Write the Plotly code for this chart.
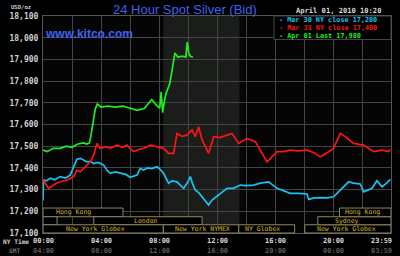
import plotly.graph_objects as go

# ---------------- data ----------------
hours_mar30 = [0.0, 0.03, 0.25, 0.5, 0.8, 1.19, 1.54, 1.88, 2.11, 2.34, 2.57, 2.8, 3.03, 3.25, 3.49, 3.8, 4.18, 4.4, 4.64, 5.0, 5.33, 5.7, 6.02, 6.25, 6.48, 6.71, 6.94, 7.2, 7.5, 7.86, 8.1, 8.32, 8.66, 8.9, 9.24, 9.45, 9.70, 9.95, 10.16, 10.3, 10.50, 10.75, 10.97, 11.2, 11.42, 11.66, 11.9, 12.23, 12.69, 13.14, 13.61, 14.0, 14.52, 15.0, 15.56, 16.14, 16.6, 17.06, 17.6, 18.21, 18.32, 18.7, 19.12, 19.6, 20.04, 20.50, 21.08, 21.4, 21.88, 22.11, 22.69, 23.03, 23.38, 23.7, 23.95]
price_mar30 = [17.25, 17.344, 17.34, 17.353, 17.345, 17.36, 17.353, 17.367, 17.405, 17.44, 17.444, 17.436, 17.428, 17.43, 17.42, 17.425, 17.413, 17.39, 17.375, 17.382, 17.375, 17.37, 17.357, 17.362, 17.367, 17.398, 17.39, 17.40, 17.397, 17.405, 17.392, 17.375, 17.329, 17.34, 17.336, 17.322, 17.306, 17.33, 17.36, 17.33, 17.298, 17.285, 17.267, 17.25, 17.229, 17.252, 17.265, 17.283, 17.306, 17.306, 17.321, 17.318, 17.321, 17.33, 17.336, 17.306, 17.296, 17.283, 17.283, 17.28, 17.255, 17.262, 17.263, 17.262, 17.267, 17.298, 17.336, 17.33, 17.326, 17.29, 17.306, 17.341, 17.313, 17.33, 17.347]

hours_mar31 = [0.0, 0.39, 0.8, 1.19, 1.66, 2.11, 2.34, 2.57, 3.03, 3.26, 3.5, 3.72, 3.95, 4.3, 4.64, 5.10, 5.45, 5.79, 6.0, 6.25, 6.6, 6.94, 7.4, 7.86, 8.32, 8.66, 9.01, 9.24, 9.6, 9.93, 10.28, 10.50, 10.73, 10.97, 11.2, 11.42, 11.77, 12.2, 12.69, 13.03, 13.49, 14.07, 14.64, 14.99, 15.45, 15.79, 16.14, 16.6, 17.06, 17.6, 18.21, 18.7, 19.12, 19.6, 20.04, 20.50, 20.85, 21.42, 22.11, 22.80, 23.38, 23.83, 23.95]
price_mar31 = [17.344, 17.306, 17.325, 17.336, 17.344, 17.36, 17.39, 17.382, 17.413, 17.428, 17.46, 17.513, 17.49, 17.498, 17.49, 17.505, 17.495, 17.505, 17.49, 17.475, 17.485, 17.49, 17.505, 17.498, 17.49, 17.467, 17.467, 17.559, 17.545, 17.551, 17.575, 17.544, 17.59, 17.529, 17.5, 17.467, 17.544, 17.54, 17.551, 17.559, 17.513, 17.536, 17.521, 17.482, 17.428, 17.451, 17.475, 17.475, 17.482, 17.478, 17.482, 17.47, 17.451, 17.47, 17.49, 17.559, 17.544, 17.513, 17.505, 17.475, 17.482, 17.475, 17.486]

hours_apr01 = [0.0, 0.3, 0.7, 1.2, 1.6, 2.0, 2.4, 2.8, 3.0, 3.2, 3.3, 3.45, 3.6, 3.75, 4.0, 4.5, 5.0, 5.5, 6.0, 6.5, 7.0, 7.3, 7.5, 7.8, 8.05, 8.15, 8.25, 8.4, 8.5, 8.75, 8.95, 9.1, 9.3, 9.6, 9.85, 9.95, 10.05, 10.15, 10.33]
price_apr01 = [17.482, 17.475, 17.49, 17.49, 17.50, 17.495, 17.51, 17.515, 17.51, 17.515, 17.545, 17.62, 17.67, 17.695, 17.68, 17.685, 17.68, 17.685, 17.675, 17.665, 17.675, 17.70, 17.715, 17.69, 17.675, 17.75, 17.655, 17.72, 17.745, 17.79, 17.87, 17.93, 17.91, 17.915, 17.91, 17.98, 17.93, 17.915, 17.91]

series_names = ["Mar 30 NY close 17,280", "Mar 31 NY close 17,400", "Apr 01 Last 17,980"]
series_colors = ["#17c3f2", "#ff1414", "#1ef01e"]

y_tickvals = [17.1, 17.2, 17.3, 17.4, 17.5, 17.6, 17.7, 17.8, 17.9, 18.0, 18.1]
y_ticktext = ["17,100", "17,200", "17,300", "17,400", "17,500", "17,600", "17,700", "17,800", "17,900", "18,000", "18,100"]
x_tickvals = [0, 4, 8, 12, 16, 20]
ny_labels = ["00:00", "04:00", "08:00", "12:00", "16:00", "20:00"]
gmt_labels = ["04:00", "08:00", "12:00", "16:00", "20:00", "00:00"]

# sessions: name, start hour, end hour, row (0 top), label-centre hour
session_names = ["Hong Kong", "", "London", "New York Globex", "New York NYMEX", "NY Globex", "New York Globex", "Sydney", "Hong Kong"]
session_start = [0.0, 0.0, 3.5, 0.0, 8.3, 13.5, 18.05, 18.95, 20.45]
session_end = [5.52, 0.97, 10.97, 8.3, 13.5, 17.35, 24.0, 24.0, 24.0]
session_row = [0, 1, 1, 2, 2, 2, 2, 1, 0]
session_label_x = [2.09, 0.5, 7.12, 3.61, 11.0, 15.17, 20.92, 20.94, 22.06]

nymex_start, nymex_end = 8.3, 13.55

# ---------------- figure ----------------
MONO = "DejaVu Sans Mono"
fig = go.Figure()

for hx, py, nm, col in zip([hours_mar30, hours_mar31, hours_apr01],
                           [price_mar30, price_mar31, price_apr01],
                           series_names, series_colors):
    fig.add_trace(go.Scatter(x=hx, y=py, mode="lines", name=nm,
                             line=dict(color=col, width=1.7), showlegend=False))

shapes = []
shapes.append(dict(type="rect", xref="x", yref="y", x0=nymex_start, x1=nymex_end,
                   y0=17.1, y1=18.1, fillcolor="#1b1d1b", line=dict(width=0), layer="below"))

row_bounds = [(0.075, 0.115), (0.038, 0.075), (0.0, 0.038)]
row_centres = [0.097, 0.057, 0.019]
annotations = []


def ann(text, x, y, xref="paper", yref="paper", xanchor="center", **font):
    annotations.append(dict(text=text, x=x, y=y, xref=xref, yref=yref, xanchor=xanchor,
                            yanchor="middle", showarrow=False, font=font))


for nm, s, e, r, lx in zip(session_names, session_start, session_end, session_row, session_label_x):
    y0, y1 = row_bounds[r]
    shapes.append(dict(type="rect", xref="x", yref="paper", x0=s, x1=e, y0=y0, y1=y1,
                       fillcolor="#000000", line=dict(color="#8a8a62", width=1), layer="above"))
    if nm:
        ann(nm, lx, row_centres[r], xref="x", family=MONO, size=6.5, color="#d9b22a")

# legend box
shapes.append(dict(type="rect", xref="paper", yref="paper", x0=0.664, x1=1.0, y0=0.892, y1=1.0,
                   fillcolor="#000000", line=dict(color="#4a4a4a", width=1), layer="above"))
for i, (nm, col) in enumerate(zip(series_names, series_colors)):
    ann("- " + nm, 0.672, [0.982, 0.946, 0.910][i], xanchor="left",
        family=MONO, size=6.8, color=col, weight="bold")

ann("24 Hour Spot Silver (Bid)", 0.4075, 1.032, family="Liberation Sans", size=13, color="#3f62f0")
ann("www.kitco.com", 0.0, 0.919, xanchor="left", family="Liberation Sans", size=12, color="#3f62f0", weight="bold")
ann("April 01, 2010 10:20", 0.850, 1.026, family=MONO, size=7.1, color="#d8d8d8", weight="bold")
ann("USD/oz", -0.062, 1.041, family=MONO, size=5.6, color="#d0d0d0", weight="bold")
ann("NY Time", -0.078, -0.037, family=MONO, size=6.2, color="#d0d0d0", weight="bold")
ann("GMT", -0.082, -0.081, family=MONO, size=6.2, color="#707070", weight="bold")
annotations.append(dict(text="23:59", x=24, y=-0.037, xref="x", yref="paper", xanchor="right", yanchor="middle",
                        xshift=3, showarrow=False, font=dict(family=MONO, size=7, color="#d8d8d8", weight="bold")))
annotations.append(dict(text="03:59", x=24, y=-0.081, xref="x", yref="paper", xanchor="right", yanchor="middle",
                        xshift=3, showarrow=False, font=dict(family=MONO, size=7, color="#5a5a5a", weight="bold")))
for tv, ny, gm in zip(x_tickvals, ny_labels, gmt_labels):
    ann(ny, tv, -0.037, xref="x", family=MONO, size=7, color="#d8d8d8", weight="bold")
    ann(gm, tv, -0.081, xref="x", family=MONO, size=7, color="#5a5a5a", weight="bold")

fig.update_layout(
    width=400, height=256,
    margin=dict(l=43, r=9, t=16, b=23),
    paper_bgcolor="#000000", plot_bgcolor="#050505",
    shapes=shapes, annotations=annotations,
    xaxis=dict(range=[0, 24], tickvals=[0, 2, 4, 6, 8, 10, 12, 14, 16, 18, 20, 22, 24],
               showticklabels=False, showgrid=True, gridcolor="#444444", gridwidth=1,
               zeroline=False, showline=True, linecolor="#555555", mirror=True, fixedrange=True),
    yaxis=dict(range=[17.1, 18.1], tickvals=y_tickvals, ticktext=y_ticktext,
               tickfont=dict(family=MONO, size=8, color="#d0d0d0", weight="bold"),
               showgrid=True, gridcolor="#444444", gridwidth=1, zeroline=False,
               showline=True, linecolor="#555555", mirror=True, ticks="", ticklabelstandoff=2,
               fixedrange=True),
)

fig.write_html("out.html")
